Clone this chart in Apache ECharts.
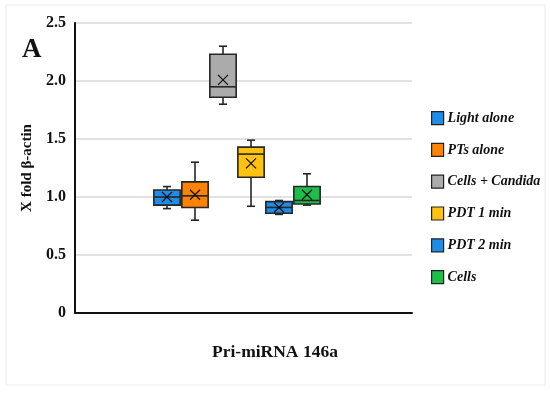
<!DOCTYPE html>
<html>
<head>
<meta charset="utf-8">
<script src="https://cdn.jsdelivr.net/npm/echarts@6/dist/echarts.min.js"></script>
<style>
html,body{margin:0;padding:0;background:#fff;}
#chart{width:550px;height:393px;}
</style>
</head>
<body>
<div id="chart"></div>
<script>
// ---- data ----
const groups  = ['Light alone', 'PTs alone', 'Cells + Candida', 'PDT 1 min', 'PDT 2 min', 'Cells'];
const colors  = ['#1E8CE8', '#FF8200', '#ABABAB', '#FFC20E', '#1E8CE8', '#1DBF4A'];
const mins    = [0.90, 0.80, 1.80, 0.92, 0.85, 0.93];
const q1s     = [0.93, 0.91, 1.86, 1.17, 0.86, 0.94];
const medians = [1.00, 1.01, 1.95, 1.37, 0.91, 0.97];
const q3s     = [1.06, 1.13, 2.23, 1.43, 0.96, 1.09];
const maxs    = [1.09, 1.30, 2.30, 1.49, 0.97, 1.20];
const means   = [1.00, 1.02, 2.01, 1.29, 0.91, 1.02];
const yTicks  = ['0', '0.5', '1.0', '1.5', '2.0', '2.5'];
const categoryLabel = 'Pri-miRNA 146a';
const yTitle = 'X fold \u03B2-actin';

const serif = '"Liberation Serif", "Times New Roman", serif';
const stroke = '#262626';

function renderBox(params, api) {
  const x = api.value(0);
  const pMin = api.coord([x, api.value(1)]);
  const pQ1  = api.coord([x, api.value(2)]);
  const pMed = api.coord([x, api.value(3)]);
  const pQ3  = api.coord([x, api.value(4)]);
  const pMax = api.coord([x, api.value(5)]);
  const pMean = api.coord([x, api.value(6)]);
  const band = api.size([1, 0])[0];
  const half = band * 0.47;
  const cap = 4;
  const cx = pMed[0];
  const color = api.visual('color');
  const ls = {stroke: stroke, lineWidth: 1.6};
  const xs = 5;
  return {
    type: 'group',
    children: [
      {type: 'line', shape: {x1: cx, y1: pQ3[1], x2: cx, y2: pMax[1]}, style: ls},
      {type: 'line', shape: {x1: cx - cap, y1: pMax[1], x2: cx + cap, y2: pMax[1]}, style: ls},
      {type: 'line', shape: {x1: cx, y1: pQ1[1], x2: cx, y2: pMin[1]}, style: ls},
      {type: 'line', shape: {x1: cx - cap, y1: pMin[1], x2: cx + cap, y2: pMin[1]}, style: ls},
      {type: 'rect', shape: {x: cx - half, y: pQ3[1], width: half * 2, height: pQ1[1] - pQ3[1]},
        style: {fill: color, stroke: stroke, lineWidth: 1.6}},
      {type: 'line', shape: {x1: cx - half, y1: pMed[1], x2: cx + half, y2: pMed[1]}, style: ls},
      {type: 'line', shape: {x1: cx - xs, y1: pMean[1] - xs, x2: cx + xs, y2: pMean[1] + xs}, style: {stroke: '#111', lineWidth: 1.3}},
      {type: 'line', shape: {x1: cx - xs, y1: pMean[1] + xs, x2: cx + xs, y2: pMean[1] - xs}, style: {stroke: '#111', lineWidth: 1.3}}
    ]
  };
}

const series = groups.map(function (name, i) {
  return {
    name: name,
    type: 'custom',
    xAxisIndex: 1,
    yAxisIndex: 1,
    itemStyle: {color: colors[i], borderColor: stroke},
    renderItem: renderBox,
    encode: {x: 0, y: [1, 2, 3, 4, 5, 6]},
    data: [[i, mins[i], q1s[i], medians[i], q3s[i], maxs[i], means[i]]],
    z: 3
  };
});

const chart = echarts.init(document.getElementById('chart'), null, {renderer: 'canvas'});
chart.setOption({
  animation: false,
  backgroundColor: '#fff',
  graphic: [
    {type: 'rect', shape: {x: 6, y: 5, width: 539, height: 380}, style: {fill: 'none', stroke: '#eeeeee', lineWidth: 1.2}, z: -1},
    {type: 'text', left: 22, top: 37, style: {text: 'A', font: 'bold 27px ' + serif, fill: '#111'}},
    {type: 'text', left: 212, top: 343, style: {text: categoryLabel, font: 'bold 17.5px ' + serif, fill: '#111'}}
  ],
  legend: {
    data: groups,
    orient: 'vertical',
    left: 426,
    top: 106,
    icon: 'rect',
    itemWidth: 12,
    itemHeight: 13,
    itemGap: 17.6,
    itemStyle: {borderColor: '#222', borderWidth: 1.2},
    textStyle: {fontFamily: serif, fontStyle: 'italic', fontWeight: 'bold', fontSize: 14, color: '#111', padding: [0, 0, 0, -1]}
  },
  grid: [
    {left: 75, right: 138, top: 23, bottom: 80},
    {left: 153, width: 168, top: 23, bottom: 80}
  ],
  xAxis: [
    {type: 'category', gridIndex: 0, data: [categoryLabel],
      axisLine: {show: true, lineStyle: {color: '#111', width: 2}},
      axisTick: {show: false}, axisLabel: {show: false}},
    {type: 'category', gridIndex: 1, data: groups, show: false}
  ],
  yAxis: [
    {type: 'value', gridIndex: 0, min: 0, max: 2.5, interval: 0.5,
      name: yTitle, nameLocation: 'middle', nameGap: 38, nameRotate: 90,
      nameTextStyle: {fontFamily: serif, fontWeight: 'bold', fontSize: 15, color: '#111'},
      axisLine: {show: true, lineStyle: {color: '#111', width: 2}},
      axisTick: {show: false},
      axisLabel: {fontFamily: serif, fontWeight: 'bold', fontSize: 16, color: '#111', margin: 9,
        formatter: function (v) { return yTicks[Math.round(v / 0.5)]; }},
      splitLine: {show: true, lineStyle: {color: '#d9d9d9', width: 1.5}}},
    {type: 'value', gridIndex: 1, min: 0, max: 2.5, interval: 0.5, show: false,
      splitLine: {show: false}}
  ],
  series: series
});
</script>
</body>
</html>
